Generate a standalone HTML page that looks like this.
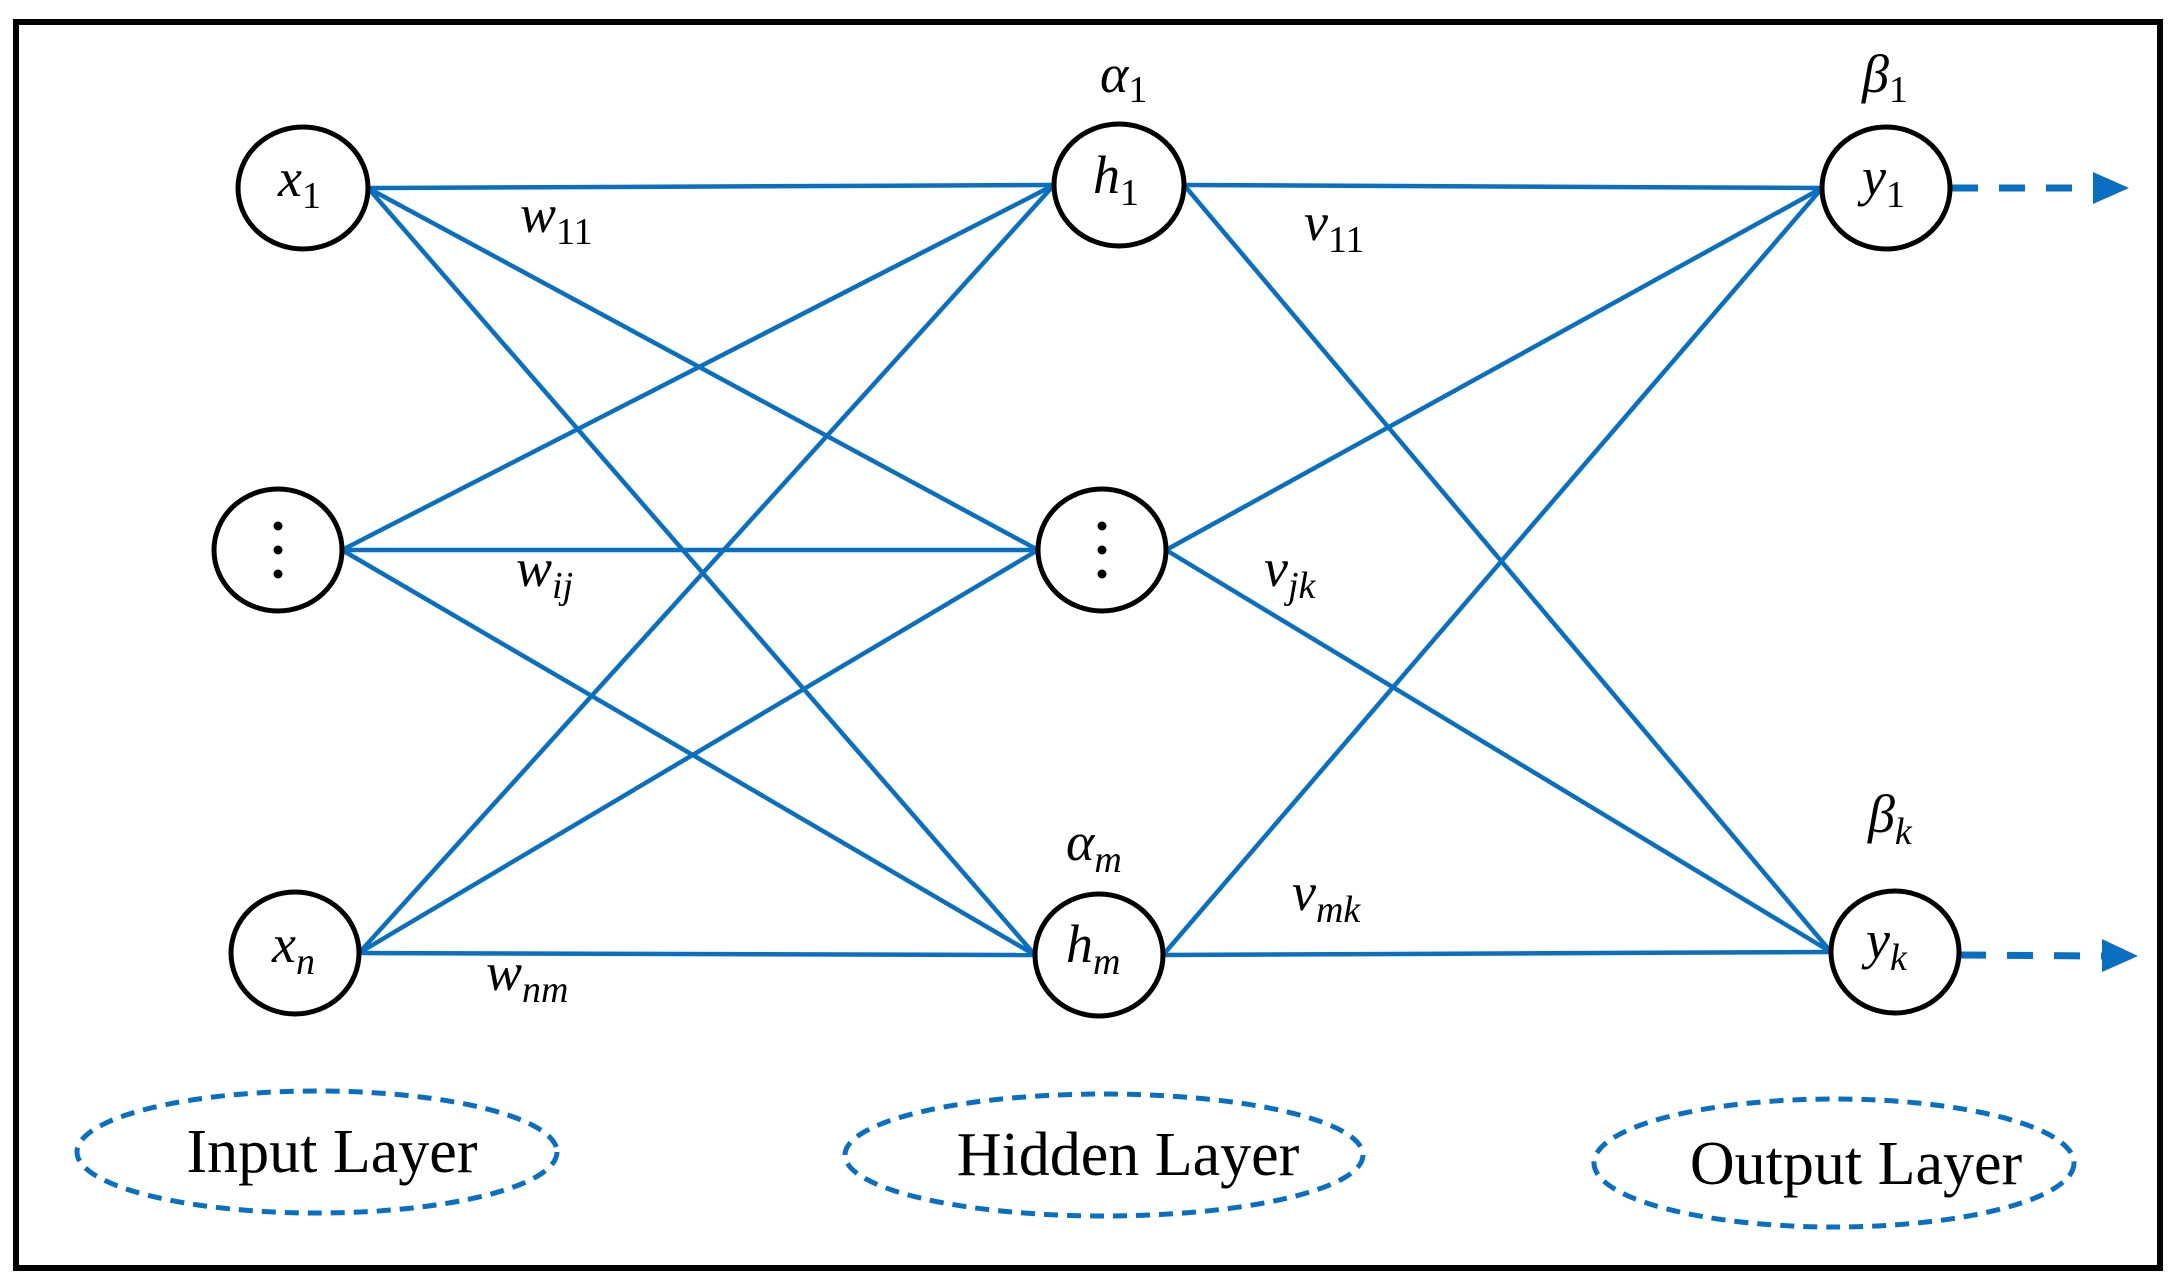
<!DOCTYPE html>
<html><head><meta charset="utf-8"><style>
html,body{margin:0;padding:0;background:#fff;}
svg{display:block;}
text{font-family:"Liberation Serif",serif;}
</style></head><body>
<svg width="2182" height="1288" viewBox="0 0 2182 1288" xmlns="http://www.w3.org/2000/svg">
<rect x="0" y="0" width="2182" height="1288" fill="#fff"/>
<rect x="16" y="22" width="2144" height="1246" fill="none" stroke="#000" stroke-width="6"/>
<g stroke="#0a6fc0" stroke-width="4.5" fill="none">
<line x1="368" y1="188" x2="1054" y2="185"/>
<line x1="368" y1="188" x2="1038" y2="550"/>
<line x1="368" y1="188" x2="1035" y2="955"/>
<line x1="342" y1="550" x2="1054" y2="185"/>
<line x1="342" y1="550" x2="1038" y2="550"/>
<line x1="342" y1="550" x2="1035" y2="955"/>
<line x1="359" y1="953" x2="1054" y2="185"/>
<line x1="359" y1="953" x2="1038" y2="550"/>
<line x1="359" y1="953" x2="1035" y2="955"/>
<line x1="1184" y1="185" x2="1822" y2="188"/>
<line x1="1184" y1="185" x2="1831" y2="952"/>
<line x1="1166" y1="550" x2="1822" y2="188"/>
<line x1="1166" y1="550" x2="1831" y2="952"/>
<line x1="1163" y1="955" x2="1822" y2="188"/>
<line x1="1163" y1="955" x2="1831" y2="952"/>
<line x1="1952" y1="188" x2="2095" y2="188" stroke-width="7" stroke-dasharray="26 21"/>
<line x1="1960" y1="955" x2="2103" y2="956" stroke-width="7" stroke-dasharray="26 21"/>
</g>
<polygon points="2093,172 2129,188 2093,204" fill="#0a6fc0"/>
<polygon points="2102,939 2138,956 2102,972" fill="#0a6fc0"/>
<g fill="#fff" stroke="#000" stroke-width="5">
<ellipse cx="303" cy="188" rx="65" ry="61"/>
<ellipse cx="278" cy="550" rx="64" ry="61"/>
<ellipse cx="295" cy="953" rx="64" ry="61"/>
<ellipse cx="1119" cy="185" rx="65" ry="61"/>
<ellipse cx="1102" cy="550" rx="64" ry="61"/>
<ellipse cx="1099" cy="955" rx="64" ry="61"/>
<ellipse cx="1886" cy="188" rx="64" ry="61"/>
<ellipse cx="1895" cy="952" rx="64" ry="61"/>
</g>
<g fill="none" stroke="#0a6fc0" stroke-width="5" stroke-dasharray="14 9">
<ellipse cx="317" cy="1152" rx="240" ry="61"/>
<ellipse cx="1104" cy="1155" rx="259" ry="61"/>
<ellipse cx="1834" cy="1163" rx="240" ry="64"/>
</g>
<g font-size="62" fill="#000" text-anchor="middle">
<text x="332" y="1172">Input Layer</text>
<text x="1128" y="1175">Hidden Layer</text>
<text x="1856" y="1184">Output Layer</text>
</g>
<g fill="#000" font-size="54" font-style="italic">
<text x="278" y="196">x<tspan font-size="38" font-style="normal" dy="12">1</tspan></text>
<text x="272" y="962">x<tspan font-size="38" dy="12">n</tspan></text>
<text x="1093" y="193">h<tspan font-size="38" font-style="normal" dy="12">1</tspan></text>
<text x="1066" y="962">h<tspan font-size="38" dy="12">m</tspan></text>
<text x="1862" y="195">y<tspan font-size="38" font-style="normal" dy="12">1</tspan></text>
<text x="1866" y="958">y<tspan font-size="38" dy="12">k</tspan></text>
<text x="1100" y="92">α<tspan font-size="38" font-style="normal" dy="10">1</tspan></text>
<text x="1066" y="860">α<tspan font-size="38" dy="12">m</tspan></text>
<text x="1862" y="92">β<tspan font-size="38" font-style="normal" dy="10">1</tspan></text>
<text x="1868" y="832">β<tspan font-size="38" dy="12">k</tspan></text>
<text x="520" y="232">w<tspan font-size="38" font-style="normal" dy="12">11</tspan></text>
<text x="516" y="586">w<tspan font-size="38" dy="12">ij</tspan></text>
<text x="486" y="990">w<tspan font-size="38" dy="12">nm</tspan></text>
<text x="1304" y="240">v<tspan font-size="38" font-style="normal" dy="12">11</tspan></text>
<text x="1264" y="586">v<tspan font-size="38" dy="12">jk</tspan></text>
<text x="1292" y="910">v<tspan font-size="38" dy="12">mk</tspan></text>
</g>
<g fill="#000">
<circle cx="278" cy="526" r="4.5"/><circle cx="278" cy="550" r="4.5"/><circle cx="278" cy="574" r="4.5"/>
<circle cx="1102" cy="526" r="4.5"/><circle cx="1102" cy="550" r="4.5"/><circle cx="1102" cy="574" r="4.5"/>
</g>
</svg>
</body></html>
